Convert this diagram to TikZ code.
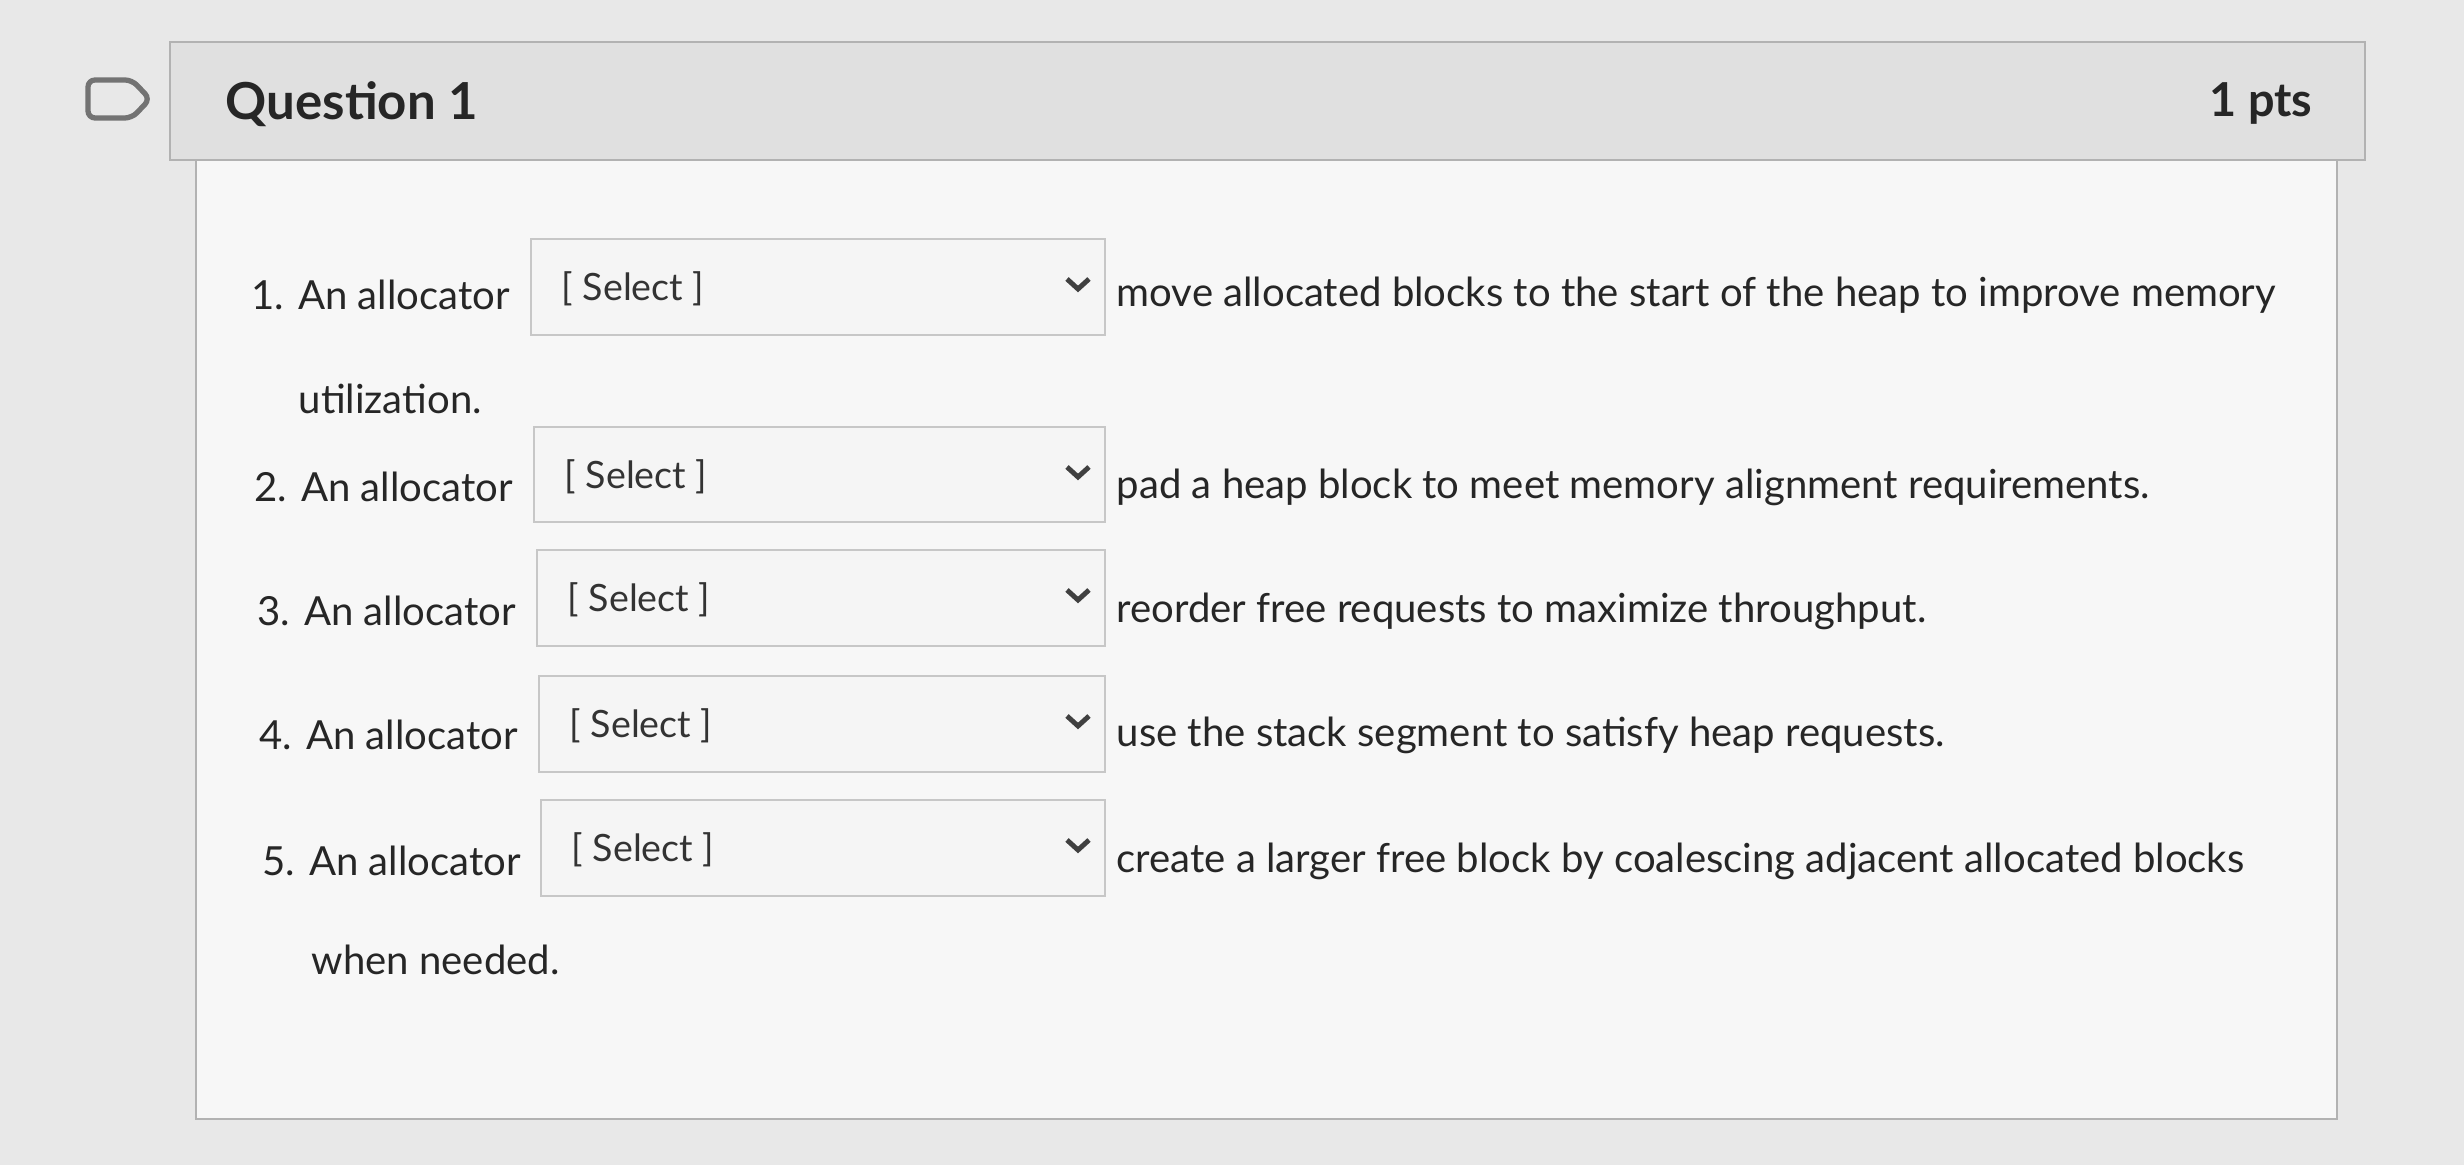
\documentclass[tikz,border=0pt]{standalone}
\usepackage{fontspec}
\setmainfont{Lato}
\begin{document}
\begin{tikzpicture}[x=0.01cm,y=-0.01cm,
  txt/.style={anchor=west,inner sep=0pt,font=\fontsize{11.4}{14}\selectfont,text=black!85},
  sel/.style={draw=black!22,fill=black!4,line width=0.6pt},
  seltxt/.style={anchor=west,inner sep=0pt,font=\fontsize{10.7}{13}\selectfont,text=black!80},
  chev/.style={draw=black!75,line width=1.4pt}]
\fill[black!9] (0,0) rectangle (2464,1165);
\useasboundingbox (0,0) rectangle (2464,1165);
% card
\draw[black!30,fill=black!3,line width=0.8pt] (196,160) rectangle (2337,1119);
\draw[black!30,fill=black!12,line width=0.8pt] (170,42) rectangle (2365,160);
% flag
\draw[black!55,line width=1.5pt,rounded corners=2pt] (88,80) -- (132,80) -- (150,99) -- (132,118) -- (88,118) -- cycle;
\node[txt,font=\fontsize{14.5}{18}\selectfont\bfseries] (q) at (225,104) {Question 1};
\node[txt,anchor=east,font=\fontsize{13.3}{16}\selectfont\bfseries] (p) at (2313,104) {1 pts};
% rows
\foreach \i/\lx/\y/\bx/\t/\b/\rest in {
 1/251/295/531/239/335/{move allocated blocks to the start of the heap to improve memory},
 2/254/487/534/427/522/{pad a heap block to meet memory alignment requirements.},
 3/257/611/537/550/646/{reorder free requests to maximize throughput.},
 4/259/735/539/676/772/{use the stack segment to satisfy heap requests.},
 5/262/861/541/800/896/{create a larger free block by coalescing adjacent allocated blocks}}{
  \draw[sel] (\bx,\t) rectangle (1105,\b);
  \node[txt] (l\i) at (\lx,\y) {\i. An allocator};
  \node[seltxt] (s\i) at (\bx+30,\t+50) {[ Select ]};
  \draw[chev] (1067,\t+40) -- (1078,\t+50) -- (1089,\t+40);
  \node[txt] (r\i) at (1116,\y) {\rest};
}
\node[txt] (u) at (298,399) {utilization.};
\node[txt] (w) at (311,960) {when needed.};
\end{tikzpicture}
\end{document}
